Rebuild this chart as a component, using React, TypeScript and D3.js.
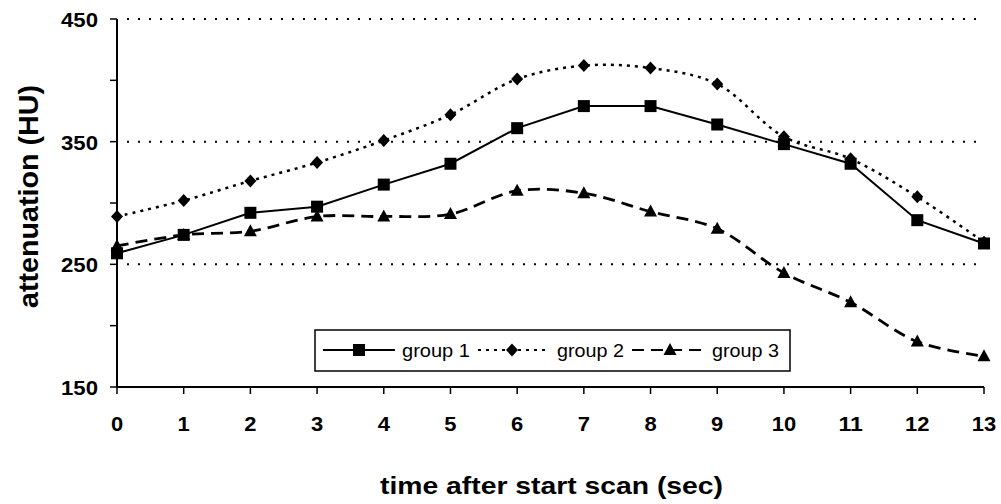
import React from 'react';
import * as d3 from 'd3';

const times = [0, 1, 2, 3, 4, 5, 6, 7, 8, 9, 10, 11, 12, 13];
const group1 = [259, 274, 292, 297, 315, 332, 361, 379, 379, 364, 348, 332, 286, 267];
const group2 = [289, 302, 318, 333, 351, 372, 401, 412, 410, 397, 354, 336, 305, 268];
const group3 = [265, 274, 277, 289, 289, 291, 310, 308, 293, 279, 243, 219, 187, 175];
const yTickLabels = [150, 250, 350, 450];
const gridValues = [250, 350, 450];

const FONT = 'Liberation Sans, Arial, sans-serif';

export default function App() {
  const width = 1001;
  const height = 504;
  const x = d3.scaleLinear().domain([0, 13]).range([117, 984]);
  const y = d3.scaleLinear().domain([150, 450]).range([387, 19]);

  const straight = d3
    .line<number>()
    .x((_, i) => x(times[i]))
    .y((d) => y(d));
  const smooth = d3
    .line<number>()
    .x((_, i) => x(times[i]))
    .y((d) => y(d))
    .curve(d3.curveCatmullRom.alpha(0.5));

  const square = (cx: number, cy: number, k: string) => (
    <rect key={k} x={cx - 6} y={cy - 6} width={12} height={12} fill="#000" />
  );
  const diamond = (cx: number, cy: number, k: string) => (
    <path key={k} d={`M${cx},${cy - 6.5}L${cx + 6},${cy}L${cx},${cy + 6.5}L${cx - 6},${cy}Z`} fill="#000" />
  );
  const triangle = (cx: number, cy: number, k: string) => (
    <path key={k} d={`M${cx},${cy - 7}L${cx + 6.5},${cy + 5}L${cx - 6.5},${cy + 5}Z`} fill="#000" />
  );

  const minorTicks = d3.range(150, 451, 50);

  return (
    <svg
      width={width}
      height={height}
      style={{ position: 'absolute', left: 0, top: 0, background: '#fff' }}
      fontFamily={FONT}
    >
      {/* gridlines */}
      {gridValues.map((v) => (
        <line
          key={`g${v}`}
          x1={x(0) + 10}
          x2={x(13)}
          y1={y(v)}
          y2={y(v)}
          stroke="#000"
          strokeWidth={2}
          strokeDasharray="2 9"
        />
      ))}

      {/* axes */}
      <line x1={x(0)} x2={x(0)} y1={y(450)} y2={y(150)} stroke="#000" strokeWidth={2} />
      <line x1={x(0)} x2={x(13)} y1={y(150)} y2={y(150)} stroke="#000" strokeWidth={2} />
      {minorTicks.map((v) => (
        <line key={`yt${v}`} x1={x(0) - 7} x2={x(0)} y1={y(v)} y2={y(v)} stroke="#000" strokeWidth={1.5} />
      ))}
      {times.map((t) => (
        <line key={`xt${t}`} x1={x(t)} x2={x(t)} y1={y(150)} y2={y(150) + 7} stroke="#000" strokeWidth={1.5} />
      ))}
      {yTickLabels.map((v) => (
        <text
          key={`yl${v}`}
          x={98}
          y={y(v) + 8}
          textAnchor="end"
          fontSize={20}
          fontWeight="bold"
          textLength={37}
          lengthAdjust="spacingAndGlyphs"
        >
          {v}
        </text>
      ))}
      {times.map((t) => (
        <text
          key={`xl${t}`}
          x={x(t)}
          y={431}
          textAnchor="middle"
          fontSize={20}
          fontWeight="bold"
          textLength={String(t).length * 12.2}
          lengthAdjust="spacingAndGlyphs"
        >
          {t}
        </text>
      ))}

      {/* axis titles */}
      <text
        x={380}
        y={494}
        fontSize={24}
        fontWeight="bold"
        textLength={343}
        lengthAdjust="spacingAndGlyphs"
      >
        time after start scan (sec)
      </text>
      <text
        transform="translate(38,308) rotate(-90)"
        fontSize={27}
        fontWeight="bold"
        textLength={223}
        lengthAdjust="spacingAndGlyphs"
      >
        attenuation (HU)
      </text>

      {/* series */}
      <path d={straight(group1) ?? ''} fill="none" stroke="#000" strokeWidth={2} />
      <path d={smooth(group2) ?? ''} fill="none" stroke="#000" strokeWidth={2.5} strokeDasharray="3 5" />
      <path d={smooth(group3) ?? ''} fill="none" stroke="#000" strokeWidth={2.8} strokeDasharray="12 7" />
      {group2.map((v, i) => diamond(x(times[i]), y(v), `d${i}`))}
      {group3.map((v, i) => triangle(x(times[i]), y(v), `t${i}`))}
      {group1.map((v, i) => square(x(times[i]), y(v), `s${i}`))}

      {/* legend */}
      <rect x={315} y={330} width={475} height={41} fill="#fff" stroke="#000" strokeWidth={1.5} />
      <line x1={323} x2={395} y1={350} y2={350} stroke="#000" strokeWidth={2} />
      {square(359, 350, 'ls')}
      <text x={402} y={357} fontSize={19} textLength={68} lengthAdjust="spacingAndGlyphs">
        group 1
      </text>
      <line x1={478} x2={547} y1={350} y2={350} stroke="#000" strokeWidth={2} strokeDasharray="3 5" />
      {diamond(512, 350, 'ld')}
      <text x={557} y={357} fontSize={19} textLength={67} lengthAdjust="spacingAndGlyphs">
        group 2
      </text>
      <line x1={632} x2={706} y1={350} y2={350} stroke="#000" strokeWidth={2} strokeDasharray="12 7" />
      {triangle(670, 350, 'lt')}
      <text x={712} y={357} fontSize={19} textLength={67} lengthAdjust="spacingAndGlyphs">
        group 3
      </text>
    </svg>
  );
}
